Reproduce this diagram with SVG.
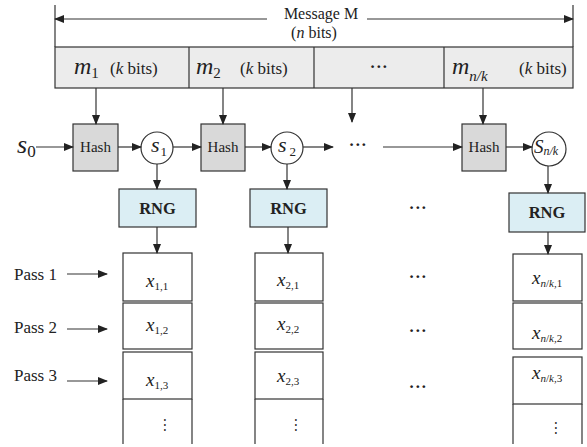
<svg xmlns="http://www.w3.org/2000/svg" width="587" height="447" viewBox="0 0 587 447">
<defs>
<marker id="ah" markerUnits="userSpaceOnUse" markerWidth="10" markerHeight="8" refX="9" refY="4" orient="auto">
<path d="M0,0 L10,4 L0,8 Z" fill="#222"/>
</marker>
<style>
.ln{stroke:#333;stroke-width:1.2;fill:none}
.ar{stroke:#333;stroke-width:1.2;fill:none;marker-end:url(#ah)}
.bx{stroke:#333;stroke-width:1.2}
.msg{fill:#ececec}
.hash{fill:#d9d9d9}
.rng{fill:#dbeef4}
.cell{fill:#fff}
.t{font-family:"Liberation Serif","Times New Roman",serif;fill:#222}
.i{font-style:italic}
.s15{font-size:15px}
.s16{font-size:16px}
.s17{font-size:17px}
.big{font-size:24px}
.rt{font-size:16.5px;font-weight:bold}
.dots{font-size:17px;font-weight:bold;letter-spacing:0.5px}
.xx{font-size:19px;font-style:italic}
.sub{font-size:11px}
</style>
</defs>

<g id="message">
<line class="ln" x1="55" y1="5" x2="55" y2="47"/>
<line class="ln" x1="573" y1="5" x2="573" y2="47"/>
<text class="t s16" x="321" y="19" text-anchor="middle">Message M</text>
<text class="t s16" x="314" y="38" text-anchor="middle">(<tspan class="i">n</tspan> bits)</text>
<rect class="bx msg" x="55" y="47" width="518" height="41"/>
<line class="ln" x1="189" y1="47" x2="189" y2="88"/>
<line class="ln" x1="314" y1="47" x2="314" y2="88"/>
<line class="ln" x1="444" y1="47" x2="444" y2="88"/>
</g>
<g id="m1"><text class="t" x="74" y="74"><tspan class="i big">m</tspan><tspan class="s15" dy="4">1</tspan></text><text class="t s17" x="110" y="74">(<tspan class="i">k</tspan> bits)</text></g>
<g id="m2"><text class="t" x="196" y="74"><tspan class="i big">m</tspan><tspan class="s15" dy="4">2</tspan></text><text class="t s17" x="240" y="74">(<tspan class="i">k</tspan> bits)</text></g>
<g id="mdots"><text class="t dots" x="379" y="72" text-anchor="middle">···</text></g>
<g id="mnk"><text class="t" x="452" y="74"><tspan class="i big">m</tspan><tspan class="i s15" dy="7">n/k</tspan></text><text class="t s17" x="519" y="74">(<tspan class="i">k</tspan> bits)</text></g>

<g id="s0"><text class="t" x="17" y="153"><tspan class="i" font-size="26">s</tspan><tspan font-size="17" dy="4">0</tspan></text></g>
<g id="hash1"><rect class="bx hash" x="73" y="124" width="45" height="47"/><text class="t s15" x="95.5" y="152" text-anchor="middle">Hash</text></g>
<g id="s1"><circle class="bx cell" cx="157" cy="148" r="16"/><text class="t" x="151" y="152"><tspan class="i" font-size="22">s</tspan><tspan font-size="13" dy="4" dx="1">1</tspan></text></g>
<g id="hash2"><rect class="bx hash" x="201" y="124" width="44" height="47"/><text class="t s15" x="223" y="152" text-anchor="middle">Hash</text></g>
<g id="s2"><circle class="bx cell" cx="287" cy="148" r="16"/><text class="t" x="278" y="152"><tspan class="i" font-size="22">s</tspan><tspan font-size="13" dy="4" dx="3">2</tspan></text></g>
<g id="sdots"><text class="t dots" x="358" y="150" text-anchor="middle">···</text></g>
<g id="hash3"><rect class="bx hash" x="462" y="124" width="44" height="47"/><text class="t s15" x="484" y="152" text-anchor="middle">Hash</text></g>
<g id="snk"><circle class="bx cell" cx="549" cy="149" r="17"/><text class="t" x="534" y="153"><tspan class="i" font-size="19">S</tspan><tspan class="i" font-size="12" dy="2">n/k</tspan></text></g>

<g id="rng1"><rect class="bx rng" x="119" y="189" width="77" height="38"/><text class="t rt" x="157.5" y="214" text-anchor="middle">RNG</text></g>
<g id="rng2"><rect class="bx rng" x="250" y="189" width="77" height="38"/><text class="t rt" x="288.5" y="214" text-anchor="middle">RNG</text></g>
<g id="rngdots"><text class="t dots" x="418" y="213" text-anchor="middle">···</text></g>
<g id="rng3"><rect class="bx rng" x="509" y="193" width="76" height="39"/><text class="t rt" x="547" y="218" text-anchor="middle">RNG</text></g>

<g id="pass1"><text class="t s17" x="14" y="280">Pass 1</text></g>
<g id="pass2"><text class="t s17" x="14" y="333">Pass 2</text></g>
<g id="pass3"><text class="t s17" x="14" y="381">Pass 3</text></g>

<g id="col1">
<rect class="bx cell" x="123" y="253" width="69" height="48"/>
<rect class="bx cell" x="123" y="303" width="69" height="46"/>
<rect class="bx cell" x="123" y="352" width="69" height="47"/>
<line class="ln" x1="123" y1="399" x2="123" y2="444"/>
<line class="ln" x1="192" y1="399" x2="192" y2="444"/>
<text class="t" x="146" y="287"><tspan class="xx">x</tspan><tspan class="sub" dy="3">1,1</tspan></text>
<text class="t" x="146" y="331"><tspan class="xx">x</tspan><tspan class="sub" dy="3">1,2</tspan></text>
<text class="t" x="146" y="386"><tspan class="xx">x</tspan><tspan class="sub" dy="3">1,3</tspan></text>
<text class="t" x="160" y="425" text-anchor="middle" font-size="15" transform="rotate(90 160 425)">···</text>
</g>
<g id="col2">
<rect class="bx cell" x="255" y="253" width="68" height="48"/>
<rect class="bx cell" x="255" y="303" width="68" height="46"/>
<rect class="bx cell" x="255" y="352" width="68" height="47"/>
<line class="ln" x1="255" y1="399" x2="255" y2="444"/>
<line class="ln" x1="323" y1="399" x2="323" y2="444"/>
<text class="t" x="277" y="286"><tspan class="xx">x</tspan><tspan class="sub" dy="3">2,1</tspan></text>
<text class="t" x="277" y="330"><tspan class="xx">x</tspan><tspan class="sub" dy="3">2,2</tspan></text>
<text class="t" x="277" y="382"><tspan class="xx">x</tspan><tspan class="sub" dy="3">2,3</tspan></text>
<text class="t" x="291" y="425" text-anchor="middle" font-size="15" transform="rotate(90 291 425)">···</text>
</g>
<g id="coldots">
<text class="t dots" x="418" y="282" text-anchor="middle">···</text>
<text class="t dots" x="418" y="336" text-anchor="middle">···</text>
<text class="t dots" x="418" y="392" text-anchor="middle">···</text>
</g>
<g id="col3">
<rect class="bx cell" x="513" y="254" width="69" height="47"/>
<rect class="bx cell" x="513" y="303" width="69" height="46"/>
<rect class="bx cell" x="513" y="357" width="69" height="47"/>
<line class="ln" x1="513" y1="404" x2="513" y2="444"/>
<line class="ln" x1="582" y1="404" x2="582" y2="444"/>
<text class="t" x="532" y="284"><tspan class="xx">x</tspan><tspan class="sub" dy="3"><tspan class="i">n</tspan>/<tspan class="i">k</tspan>,1</tspan></text>
<text class="t" x="532" y="339"><tspan class="xx">x</tspan><tspan class="sub" dy="3"><tspan class="i">n</tspan>/<tspan class="i">k</tspan>,2</tspan></text>
<text class="t" x="532" y="379"><tspan class="xx">x</tspan><tspan class="sub" dy="3"><tspan class="i">n</tspan>/<tspan class="i">k</tspan>,3</tspan></text>
<text class="t" x="551" y="428" text-anchor="middle" font-size="15" transform="rotate(90 551 428)">···</text>
</g>

<g id="connectors">
<line class="ar" x1="267" y1="19" x2="55" y2="19"/>
<line class="ar" x1="367" y1="19" x2="573" y2="19"/>
<line class="ar" x1="96" y1="88" x2="96" y2="124"/>
<line class="ar" x1="223" y1="88" x2="223" y2="124"/>
<line class="ar" x1="352" y1="88" x2="352" y2="122"/>
<line class="ar" x1="483" y1="88" x2="483" y2="124"/>
<line class="ar" x1="36" y1="147" x2="73" y2="147"/>
<line class="ar" x1="118" y1="147" x2="141" y2="147"/>
<line class="ar" x1="173" y1="147" x2="201" y2="147"/>
<line class="ar" x1="245" y1="147" x2="271" y2="147"/>
<line class="ar" x1="303" y1="147" x2="333" y2="147"/>
<line class="ar" x1="383" y1="147" x2="462" y2="147"/>
<line class="ar" x1="506" y1="147" x2="532" y2="147"/>
<line class="ar" x1="157" y1="164" x2="157" y2="189"/>
<line class="ar" x1="287" y1="164" x2="287" y2="189"/>
<line class="ar" x1="548" y1="166" x2="548" y2="193"/>
<line class="ar" x1="157" y1="227" x2="157" y2="253"/>
<line class="ar" x1="288" y1="227" x2="288" y2="253"/>
<line class="ar" x1="548" y1="232" x2="548" y2="254"/>
<line class="ar" x1="67" y1="274" x2="107" y2="274"/>
<line class="ar" x1="67" y1="329" x2="107" y2="329"/>
<line class="ar" x1="67" y1="381" x2="107" y2="381"/>
</g>
</svg>
